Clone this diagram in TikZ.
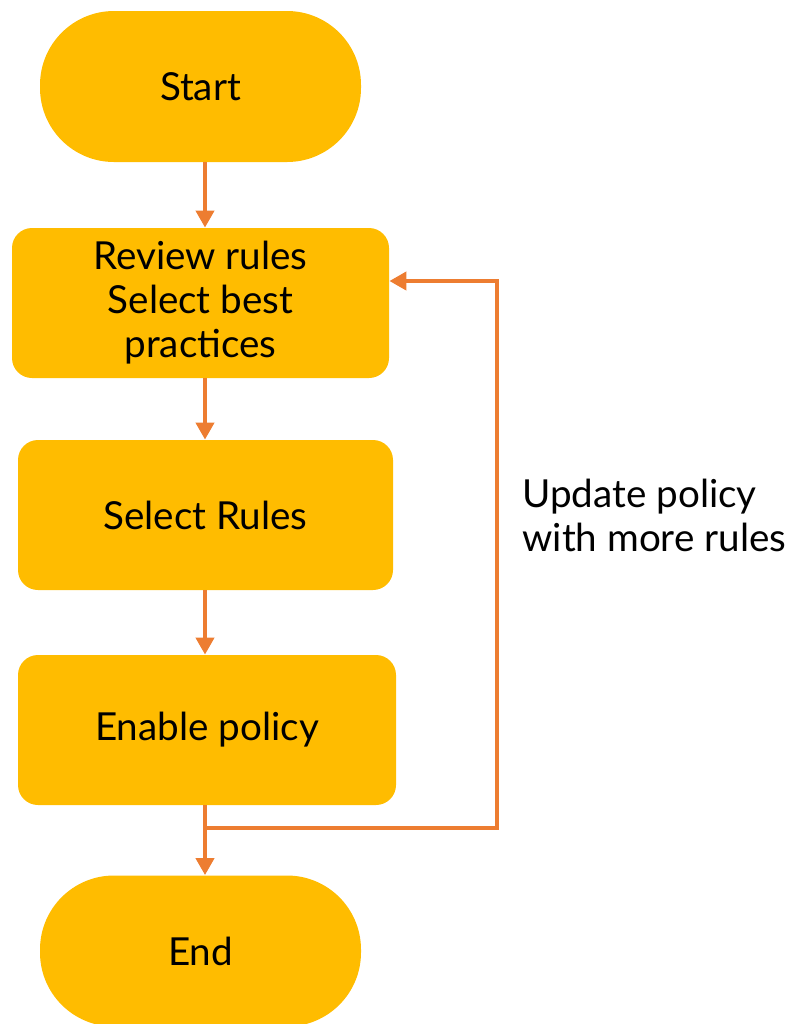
\documentclass[tikz,border=0pt]{standalone}
\usepackage{fontspec}
\setmainfont{Lato}
\usepackage{xcolor}
\usetikzlibrary{arrows.meta,positioning}
\definecolor{boxgold}{HTML}{FFBC00}
\definecolor{linkorange}{HTML}{ED7D31}

\begin{document}
\begin{tikzpicture}[x=0.5pt,y=-0.5pt,font=\fontsize{19.3}{22}\selectfont,
   term/.style={fill=boxgold,rounded corners=37pt,minimum width=160.5pt,
                minimum height=75.5pt,align=center},
   proc/.style={fill=boxgold,rounded corners=10pt,minimum height=75pt,align=center},
   arr/.style={linkorange,line width=2pt,-{Triangle[length=8.5pt,width=9pt]}}]
  \useasboundingbox (0,0) rectangle (787,1024);
  \coordinate (spine) at (205,0);
  \node[term] (start) at (200.5,86.5) {Start};
  \node[proc,minimum width=188.5pt] (review) at (200.5,303)
       {Review rules\\ Select best\\ practices};
  \node[proc,minimum width=187.5pt] (rules) at (205.5,515) {Select Rules};
  \node[proc,minimum width=189pt] (enable) at (207,730) {Enable policy};
  \node[term] (end) at (200.5,951) {End};
  \coordinate (split) at (205,828);
  \coordinate (corner) at (497,828);
  \draw[arr] (start.south -| spine) -- (review.north -| spine);
  \draw[arr] (review.south -| spine) -- (rules.north -| spine);
  \draw[arr] (rules.south -| spine) -- (enable.north -| spine);
  \draw[arr] (enable.south -| spine) -- (end.north -| spine);
  % loop back for more rules
  \draw[arr] (split) -- (corner) |- ([yshift=11pt]review.east);
  \node[anchor=west,align=left,inner sep=0pt] (note) at (522,515)
       {Update policy\\ with more rules};
\end{tikzpicture}
\end{document}
